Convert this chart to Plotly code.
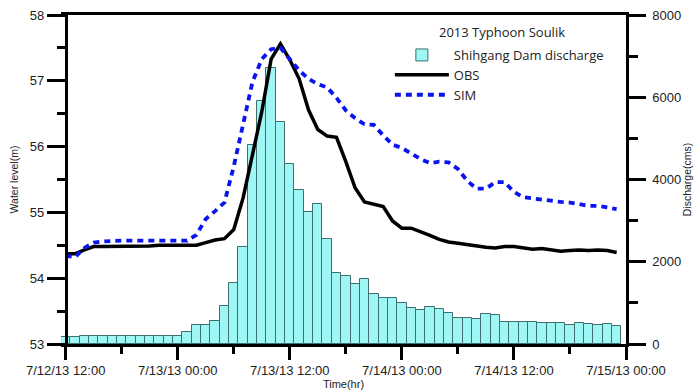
import pandas as pd
import plotly.graph_objects as go

# ---- data (hourly, starting 2013-07-12 12:00) ----
start_time = "2013-07-12 12:00"
n_hours = 60

discharge_cms = [170, 170, 200, 195, 195, 195, 200, 200, 200, 200,
                 200, 200, 200, 290, 450, 470, 550, 930, 1480, 2350,
                 4835, 5912, 6707, 5394, 4387, 3747, 3204, 3399, 2547, 1720,
                 1662, 1452, 1573, 1216, 1111, 1111, 990, 868, 827, 908,
                 851, 762, 625, 625, 600, 722, 706, 543, 543, 543,
                 527, 503, 519, 503, 454, 503, 478, 462, 478, 446]

obs_level = [54.37, 54.37, 54.43, 54.48, 54.48, 54.48, 54.48, 54.49, 54.49, 54.49,
             54.50, 54.50, 54.50, 54.50, 54.50, 54.54, 54.58, 54.60, 54.74, 55.22,
             55.85, 56.53, 57.33, 57.56, 57.32, 57.03, 56.56, 56.26, 56.16, 56.14,
             55.77, 55.37, 55.16, 55.12, 55.09, 54.87, 54.76, 54.76, 54.71, 54.65,
             54.59, 54.55, 54.53, 54.51, 54.48, 54.47, 54.46, 54.48, 54.48, 54.46,
             54.44, 54.45, 54.43, 54.41, 54.42, 54.43, 54.42, 54.43, 54.42, 54.39]

sim_level = [54.34, 54.32, 54.46, 54.54, 54.56, 54.57, 54.57, 54.57, 54.57, 54.57,
             54.57, 54.57, 54.57, 54.57, 54.66, 54.90, 55.02, 55.15, 55.70, 56.35,
             56.98, 57.33, 57.48, 57.50, 57.32, 57.16, 57.03, 56.95, 56.90, 56.74,
             56.55, 56.43, 56.34, 56.33, 56.17, 56.03, 55.98, 55.90, 55.81, 55.75,
             55.77, 55.76, 55.66, 55.48, 55.36, 55.36, 55.46, 55.46, 55.31, 55.23,
             55.21, 55.20, 55.18, 55.16, 55.15, 55.12, 55.10, 55.10, 55.07, 55.05]

level_ticks = [53, 54, 55, 56, 57, 58]
discharge_ticks = [0, 2000, 4000, 6000, 8000]
legend_title = "2013 Typhoon Soulik"

times = pd.date_range(start_time, periods=n_hours, freq="h")

# ---- layout geometry ----
W, H = 699, 392
L, R, T, B = 61.33, 73, 15, 48
plot_w = W - L - R
plot_h = H - T - B
left_axis_pos = (66 - L) / plot_w

FONT = "Liberation Sans, Arial, sans-serif"
axis_font = dict(family=FONT, size=13, color="#222")
title_font = dict(family=FONT, size=10.5, color="#222")
legend_font = dict(family="Open Sans, sans-serif", size=13, color="#222")

fig = go.Figure()
fig.add_trace(go.Bar(
    x=times, y=discharge_cms, name="Shihgang Dam discharge",
    width=3600 * 1000,
    marker=dict(color="#9ef7f5", line=dict(color="#3c6f6e", width=1)),
    yaxis="y",
))
fig.add_trace(go.Scatter(
    x=times, y=obs_level, name="OBS", mode="lines",
    line=dict(color="black", width=3.5),
    yaxis="y2",
))
fig.add_trace(go.Scatter(
    x=times, y=sim_level, name="SIM", mode="lines",
    line=dict(color="#0a14f0", width=3.8, dash="6px,5px"),
    yaxis="y2",
))

fig.add_annotation(
    text=legend_title, xref="paper", yref="paper",
    x=(502 - L) / plot_w, y=1 - (32 - T) / plot_h,
    xanchor="center", yanchor="middle", showarrow=False, font=legend_font,
)

fig.update_layout(
    width=W, height=H,
    margin=dict(l=L, r=R, t=T, b=B, autoexpand=False),
    paper_bgcolor="white", plot_bgcolor="white",
    bargap=0,
    showlegend=True,
    legend=dict(
        x=(390 - L) / plot_w, xanchor="left",
        y=1 - (40 - T) / plot_h, yanchor="top",
        bgcolor="rgba(0,0,0,0)",
        font=legend_font,
        itemwidth=54,
        tracegroupgap=0,
    ),
    xaxis=dict(
        type="date",
        range=["2013-07-12 11:30", "2013-07-15 00:00"],
        tick0="2013-07-12 12:00", dtick=12 * 3600 * 1000,
        tickformat="%-m/%d/%y %H:%M",
        ticks="outside", ticklen=13, tickwidth=2.5, tickcolor="black",
        showline=True, linecolor="black", linewidth=2.5, mirror=True,
        showgrid=False, zeroline=False,
        tickfont=axis_font,
        minor=dict(dtick=6 * 3600 * 1000, tick0="2013-07-12 12:00",
                   ticks="outside", ticklen=7, tickwidth=2.5, tickcolor="black",
                   showgrid=False),
        title=dict(text="Time(hr)", standoff=0,
                   font=dict(family=FONT, size=11, color="#222")),
    ),
    yaxis=dict(
        side="right", range=[0, 8000],
        tickvals=discharge_ticks,
        ticks="outside", ticklen=17, tickwidth=2.5, tickcolor="black",
        showline=True, linecolor="black", linewidth=2.5,
        showgrid=False, zeroline=False,
        tickfont=axis_font,
        ticklabelstandoff=4,
        minor=dict(dtick=1000, ticks="outside", ticklen=9, tickwidth=2.5,
                   tickcolor="black", showgrid=False),
        title=dict(text="Discharge(cms)", standoff=4, font=title_font),
    ),
    yaxis2=dict(
        overlaying="y", side="left", anchor="free", position=left_axis_pos,
        range=[53, 58],
        tickvals=level_ticks,
        ticks="outside", ticklen=18, tickwidth=2.5, tickcolor="black",
        showline=True, linecolor="black", linewidth=2.5,
        showgrid=False, zeroline=False,
        tickfont=axis_font,
        minor=dict(dtick=0.5, ticks="outside", ticklen=8, tickwidth=2.5,
                   tickcolor="black", showgrid=False),
        title=dict(text="Water level(m)", standoff=8, font=title_font),
    ),
)

fig.write_html("out.html", config={"displayModeBar": False},
               post_script="document.body.style.margin='0';")
